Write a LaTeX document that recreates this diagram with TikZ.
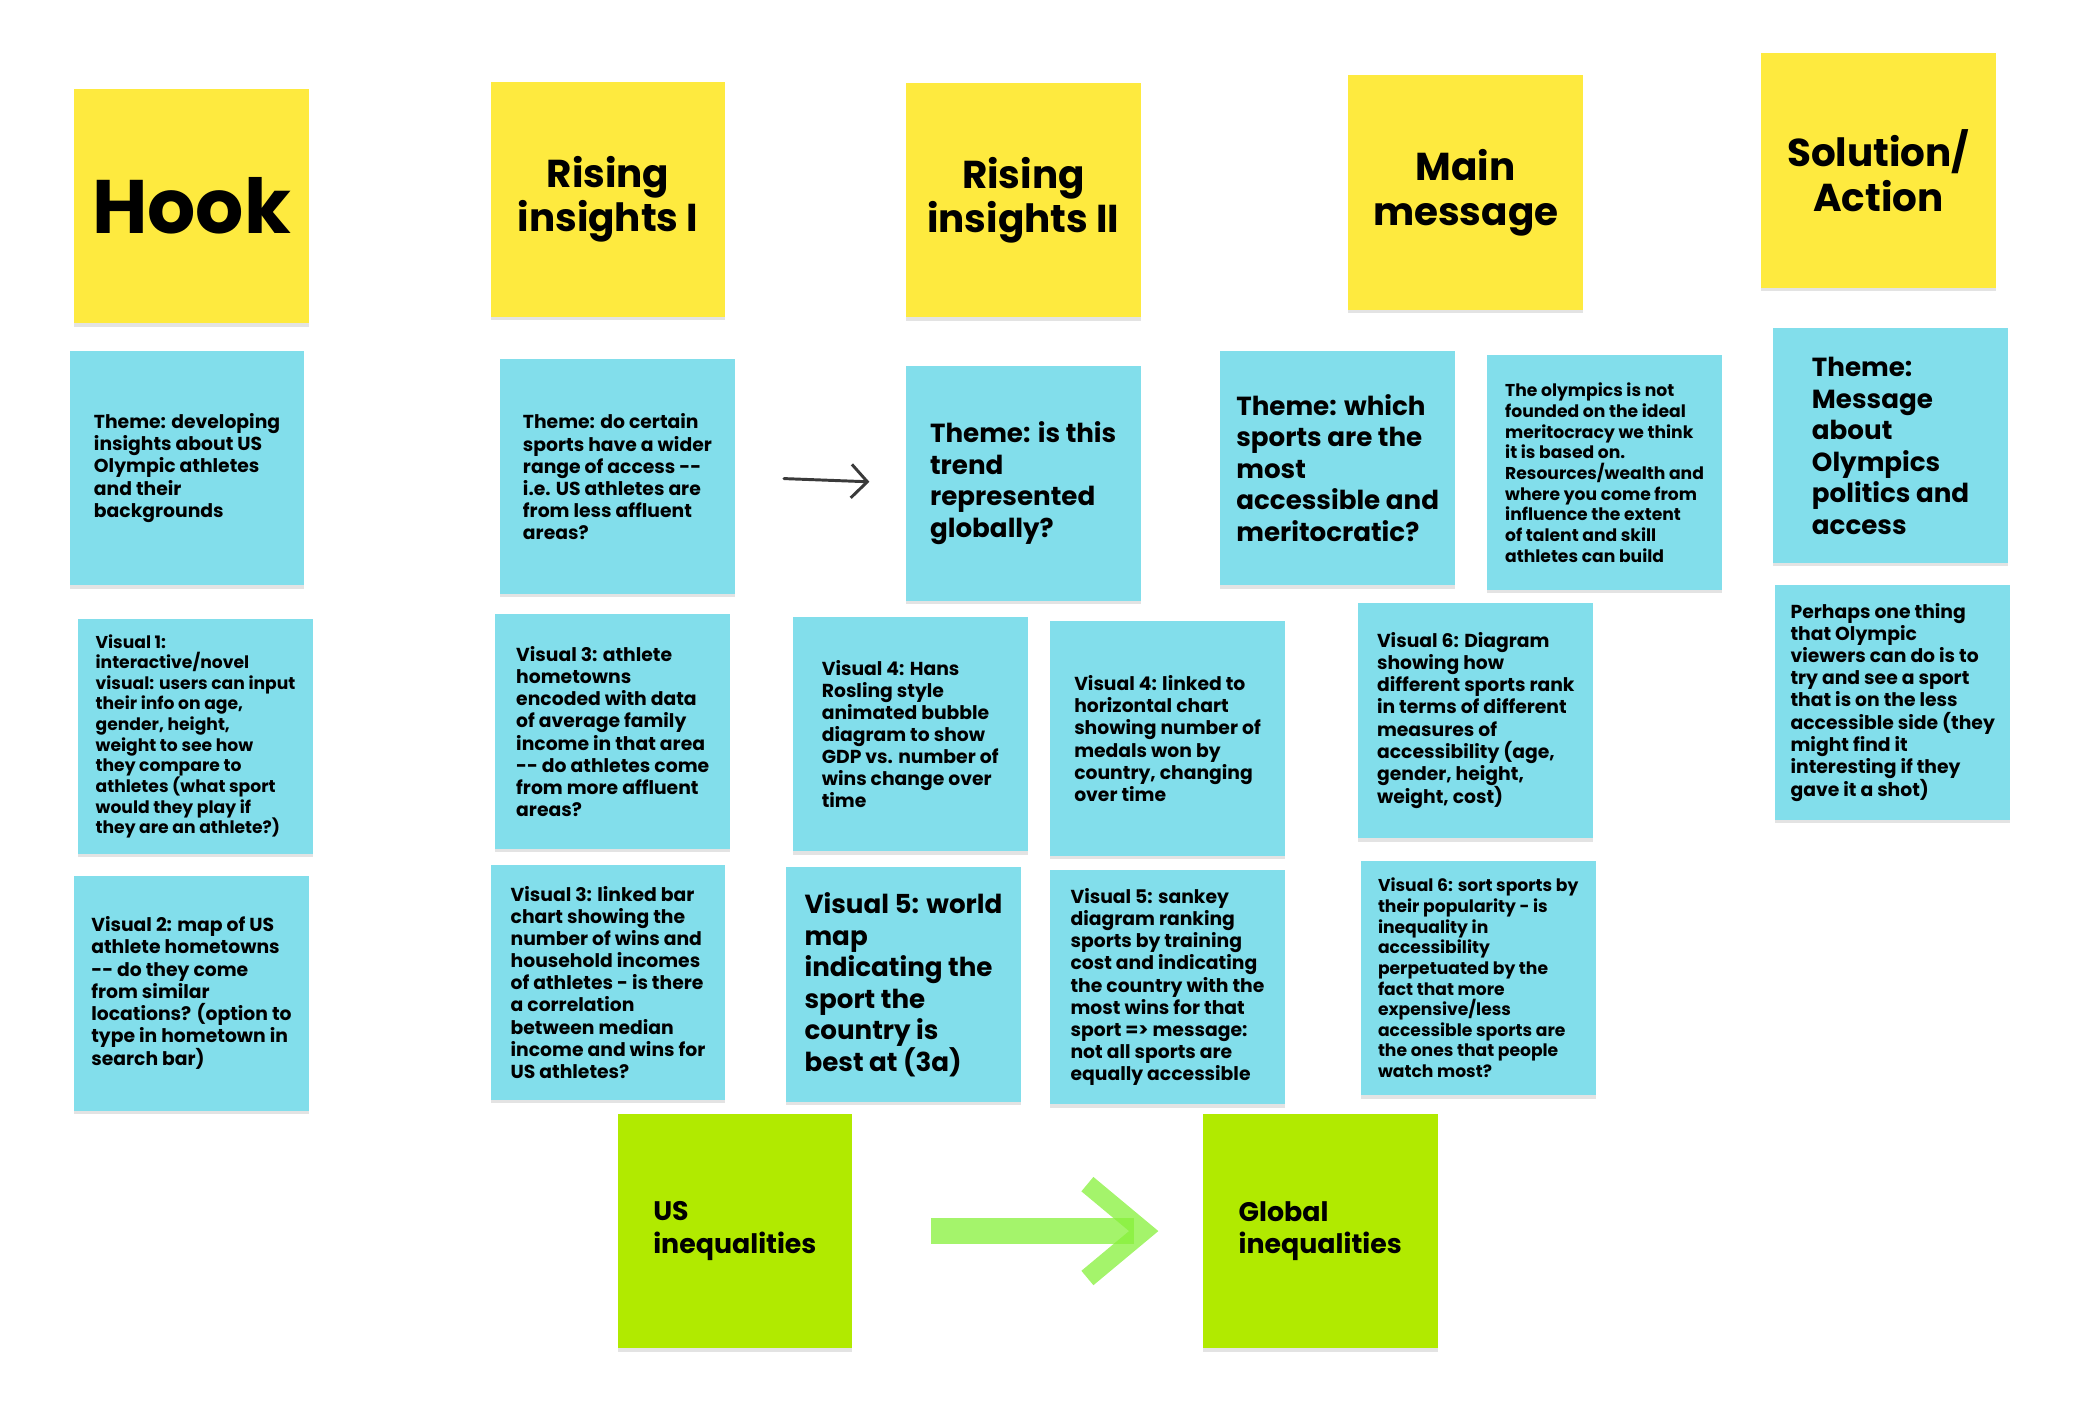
\documentclass[tikz,border=0pt]{standalone}
\usepackage{fontspec}
\setmainfont{Poppins}
\usepackage{tikz}
\usetikzlibrary{shadows,arrows.meta}
\definecolor{stickyyellow}{HTML}{FEEA3F}
\definecolor{stickyblue}{HTML}{82DEEB}
\definecolor{stickygreen}{HTML}{B1EA00}
\definecolor{brushgreen}{HTML}{86F03A}
\definecolor{pengray}{HTML}{3A3A3A}
\newcommand{\fsz}[2]{\fontsize{#1}{#2}\selectfont\bfseries}
\begin{document}
\begin{tikzpicture}[
      x=1pt, y=-1pt,
      note/.style={minimum width=175pt, minimum height=175pt, inner sep=0pt, align=left,
        drop shadow={shadow xshift=0pt, shadow yshift=-2.5pt, opacity=.22}},
      head/.style={note, fill=stickyyellow, align=center, font=\fsz{29}{33}},
      card/.style={note, fill=stickyblue, font=\fsz{14}{16.5}},
      bigcard/.style={card, font=\fsz{19.5}{23.5}},
      tinycard/.style={card, font=\fsz{12.8}{15.4}},
      ineq/.style={note, fill=stickygreen, font=\fsz{20}{24}},
      pen/.style={draw=pengray, line width=2.2pt, line cap=round, -{Straight Barb[length=12pt, width=25pt]}},
      brush/.style={draw=brushgreen, draw opacity=.75, line width=19pt, -{Straight Barb[length=42pt, width=70pt, line width=14pt]}}
    ]
      \useasboundingbox (0,0) rectangle (1560,1053);
      \node[head, font=\fsz{56.5}{60}] (hook) at (142.8,153.7) {Hook};
      \node[head] (rise1) at (453.4,148.7) {Rising\\insights I};
      \node[head] (rise2) at (763.1,149.1) {Rising\\insights II};
      \node[head] (mainmsg) at (1093,143.7) {Main\\message};
      \node[head] (solution) at (1400.6,127.3) {Solution/\\Action};

      \node[card] (thHook) at (139.5,349) {Theme: developing\\insights about US\\Olympic athletes\\and their\\backgrounds};
      \node[card] (thRise1) at (460.4,355.5) {Theme: do certain\\sports have a wider\\range of access -{}-\\i.e. US athletes are\\from less affluent\\areas?};
      \node[bigcard] (thRise2) at (763,360.3) {Theme: is this\\trend\\represented\\globally?};
      \node[bigcard] (thMain) at (997.5,349) {Theme: which\\sports are the\\most\\accessible and\\meritocratic?};
      \node[tinycard] (olympics) at (1196.5,352.4) {The olympics is not\\founded on the ideal\\meritocracy we think\\it is based on.\\Resources/wealth and\\where you come from\\influence the extent\\of talent and skill\\athletes can build};
      \node[bigcard] (thSol) at (1409.8,332.4) {Theme:\\Message\\about\\Olympics\\politics and\\access};

      \node[tinycard] (vis1) at (145.8,549.1) {Visual 1:\\interactive/novel\\visual: users can input\\their info on age,\\gender, height,\\weight to see how\\they compare to\\athletes (what sport\\would they play if\\they are an athlete?)};
      \node[card] (vis3a) at (456.9,545.5) {Visual 3: athlete\\hometowns\\encoded with data\\of average family\\income in that area\\-{}- do athletes come\\from more affluent\\areas?};
      \node[card] (vis4a) at (678.7,547.3) {Visual 4: Hans\\Rosling style\\animated bubble\\diagram to show\\GDP vs. number of\\wins change over\\time};
      \node[card] (vis4b) at (870.6,550.7) {Visual 4: linked to\\horizontal chart\\showing number of\\medals won by\\country, changing\\over time};
      \node[card] (vis6a) at (1100.5,537.5) {Visual 6: Diagram\\showing how\\different sports rank\\in terms of different\\measures of\\accessibility (age,\\gender, height,\\weight, cost)};
      \node[card] (perhaps) at (1411.4,524) {Perhaps one thing\\that Olympic\\viewers can do is to\\try and see a sport\\that is on the less\\accessible side (they\\might find it\\interesting if they\\gave it a shot)};

      \node[card] (vis2) at (142.8,740.7) {Visual 2: map of US\\athlete hometowns\\-{}- do they come\\from similar\\locations? (option to\\type in hometown in\\search bar)};
      \node[card] (vis3b) at (453.4,732.5) {Visual 3: linked bar\\chart showing the\\number of wins and\\household incomes\\of athletes - is there\\a correlation\\between median\\income and wins for\\US athletes?};
      \node[bigcard] (vis5a) at (673.7,734.3) {Visual 5: world\\map\\indicating the\\sport the\\country is\\best at (3a)};
      \node[card] (vis5b) at (870.6,736) {Visual 5: sankey\\diagram ranking\\sports by training\\cost and indicating\\the country with the\\most wins for that\\sport => message:\\not all sports are\\equally accessible};
      \node[tinycard] (vis6b) at (1102.3,729.2) {Visual 6: sort sports by\\their popularity - is\\inequality in\\accessibility\\perpetuated by the\\fact that more\\expensive/less\\accessible sports are\\the ones that people\\watch most?};

      \node[ineq] (usIneq) at (548,918) {US\\inequalities};
      \node[ineq] (globIneq) at (984.5,918) {Global\\inequalities};

      \draw[pen, shorten <=36.5pt, shorten >=27pt] (thRise1.east) -- (thRise2.west);
      \draw[brush, shorten <=58.5pt, shorten >=33pt] (usIneq.east) -- (globIneq.west);
    \end{tikzpicture}
\end{document}
